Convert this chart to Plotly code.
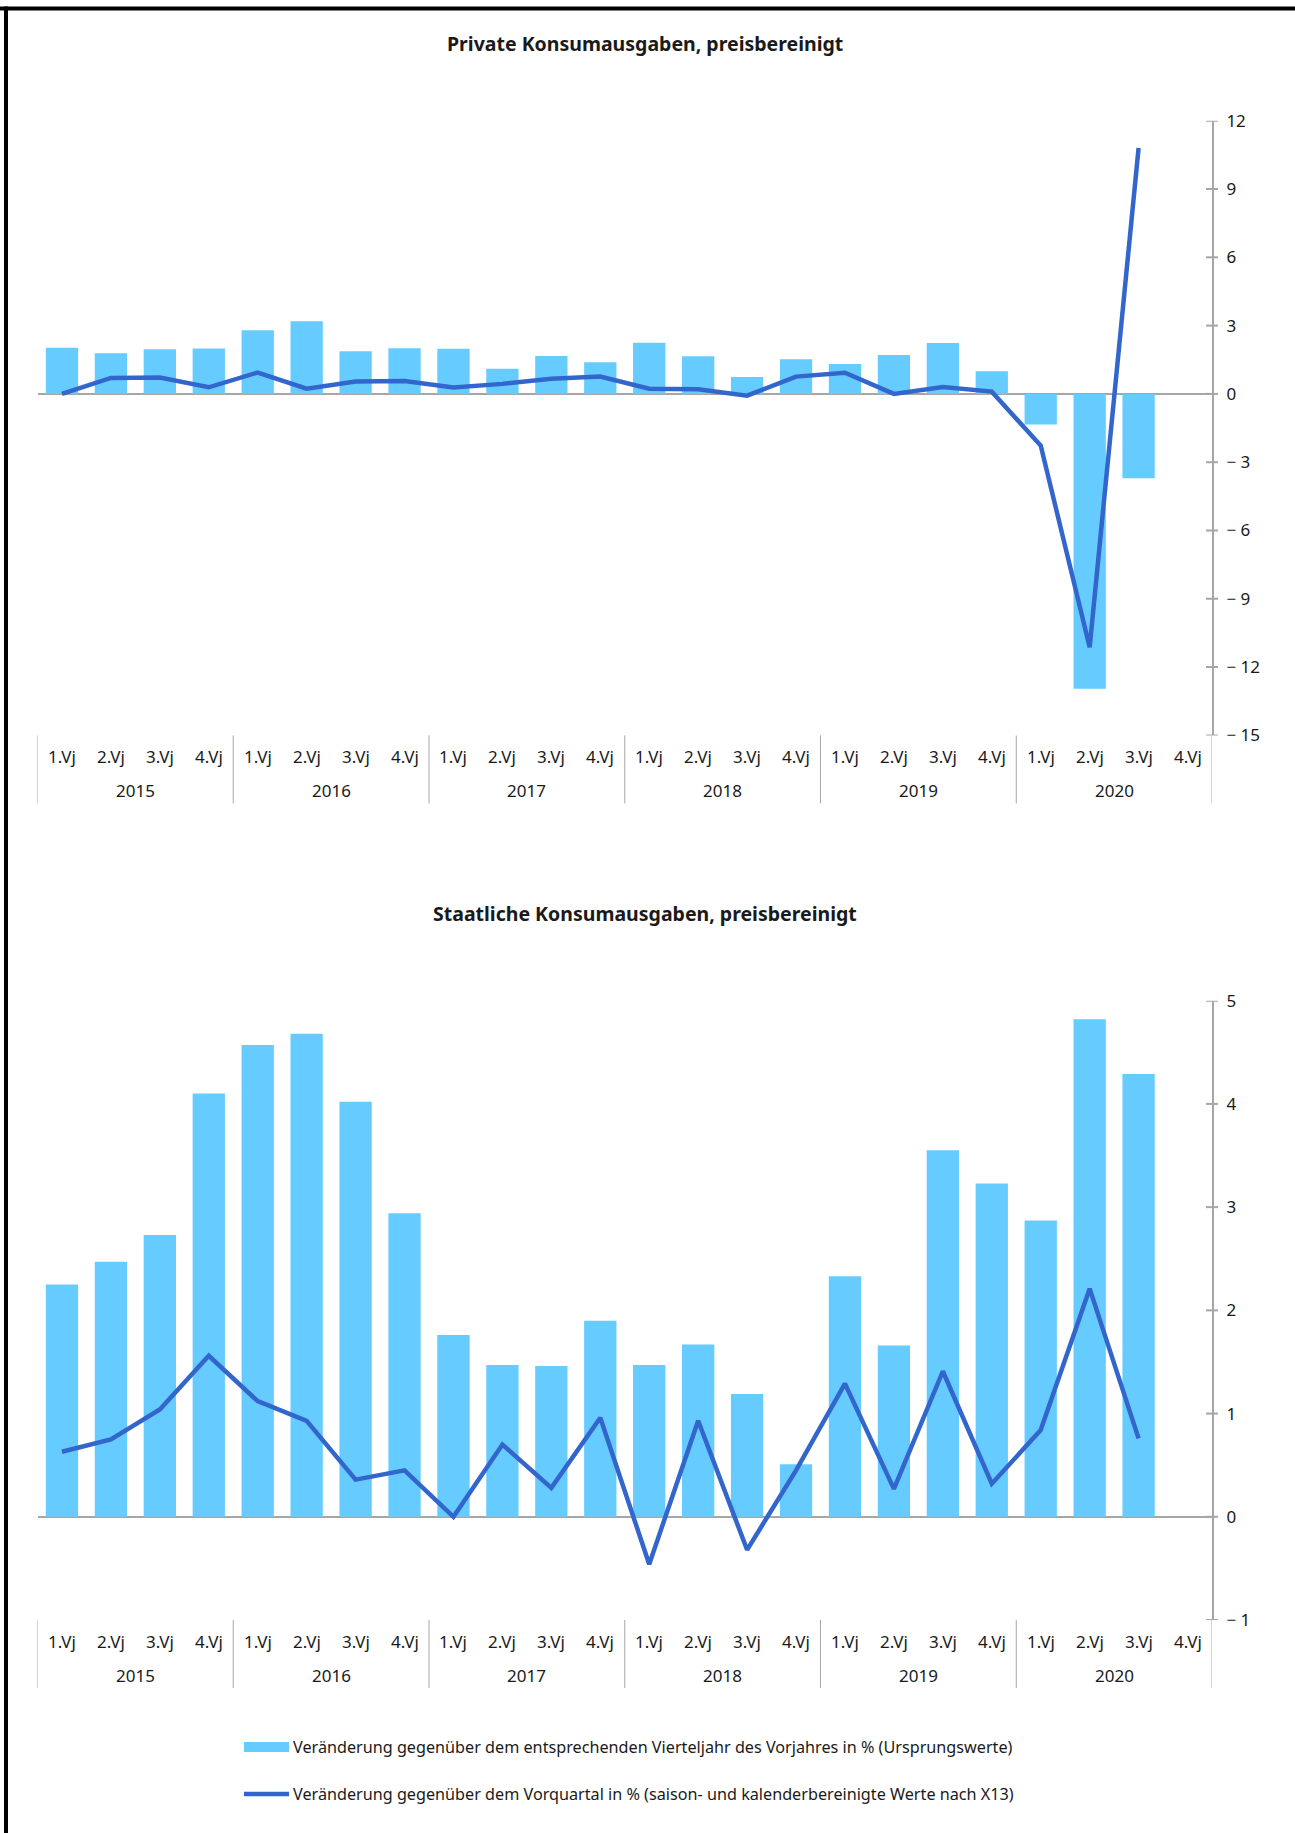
import plotly.graph_objects as go

# ---------------- data ----------------
years = ["2015", "2016", "2017", "2018", "2019", "2020"]
quarters = ["1.Vj", "2.Vj", "3.Vj", "4.Vj"]
categories = [f"{q} {y}" for y in years for q in quarters]

private_yoy = [2.03, 1.79, 1.96, 1.99, 2.80, 3.19, 1.87, 2.00,
               1.98, 1.10, 1.66, 1.39, 2.25, 1.65, 0.74, 1.52,
               1.31, 1.71, 2.24, 1.00, -1.34, -12.95, -3.71, None]
private_qoq = [0.0, 0.70, 0.72, 0.29, 0.94, 0.23, 0.54, 0.57,
               0.28, 0.44, 0.67, 0.76, 0.23, 0.20, -0.08, 0.76,
               0.93, 0.0, 0.30, 0.10, -2.27, -11.13, 10.8, None]

state_yoy = [2.25, 2.47, 2.73, 4.10, 4.57, 4.68, 4.02, 2.94,
             1.76, 1.47, 1.46, 1.90, 1.47, 1.67, 1.19, 0.51,
             2.33, 1.66, 3.55, 3.23, 2.87, 4.82, 4.29, None]
state_qoq = [0.63, 0.75, 1.04, 1.56, 1.12, 0.93, 0.36, 0.45,
             0.0, 0.70, 0.28, 0.96, -0.46, 0.93, -0.32, 0.45,
             1.29, 0.27, 1.41, 0.32, 0.84, 2.21, 0.76, None]

top_ticks = [12, 9, 6, 3, 0, -3, -6, -9, -12, -15]
bottom_ticks = [5, 4, 3, 2, 1, 0, -1]

title_top = "Private Konsumausgaben, preisbereinigt"
title_bottom = "Staatliche Konsumausgaben, preisbereinigt"
legend_bar = "Veränderung gegenüber dem entsprechenden Vierteljahr des Vorjahres in % (Ursprungswerte)"
legend_line = "Veränderung gegenüber dem Vorquartal in % (saison- und kalenderbereinigte Werte nach X13)"

# ---------------- style ----------------
W, H = 1295, 1833
FONT = "Noto Sans"
BAR_COLOR = "#66CCFF"
LINE_COLOR = "#3366CC"
AXIS_GRAY = "#A6A6A6"
TEXT = "#1a1a1a"

def py(px):
    return 1 - px / H

def pxx(px):
    return px / W

X_LEFT, X_RIGHT = 37.5, 1212
TOP_T, TOP_B = 120.7, 735.4
BOT_T, BOT_B = 1000.7, 1620

def fmt(v):
    return f"\u2212 {abs(v)}" if v < 0 else f"{v}"

fig = go.Figure()

fig.add_trace(go.Bar(x=categories, y=private_yoy, marker_color=BAR_COLOR,
                     marker_line_width=0, xaxis="x", yaxis="y", showlegend=False,
                     hoverinfo="skip"))
fig.add_trace(go.Scatter(x=categories, y=private_qoq, mode="lines",
                         line=dict(color=LINE_COLOR, width=4.5), xaxis="x", yaxis="y",
                         showlegend=False, hoverinfo="skip"))
fig.add_trace(go.Bar(x=categories, y=state_yoy, marker_color=BAR_COLOR,
                     marker_line_width=0, xaxis="x2", yaxis="y2", showlegend=False,
                     hoverinfo="skip"))
fig.add_trace(go.Scatter(x=categories, y=state_qoq, mode="lines",
                         line=dict(color=LINE_COLOR, width=4.5), xaxis="x2", yaxis="y2",
                         showlegend=False, hoverinfo="skip"))

xcommon = dict(domain=[pxx(X_LEFT), pxx(X_RIGHT)], type="category",
               categoryorder="array", categoryarray=categories,
               range=[-0.5, len(categories) - 0.5], automargin=False,
               showline=False, showgrid=False, zeroline=False,
               showticklabels=False, ticks="", fixedrange=True)

ycommon = dict(side="right", showline=True, linecolor=AXIS_GRAY, linewidth=2,
               showgrid=False, zeroline=True, zerolinecolor=AXIS_GRAY,
               zerolinewidth=2, ticks="", ticklabelstandoff=9, automargin=False,
               tickfont=dict(family=FONT, size=17, color=TEXT), fixedrange=True)

fig.update_layout(
    template="none",
    width=W, height=H, margin=dict(l=0, r=0, t=0, b=0, pad=0, autoexpand=False),
    paper_bgcolor="white", plot_bgcolor="white",
    bargap=0.34, hovermode=False,
    font=dict(family=FONT, color=TEXT),
    xaxis=dict(**xcommon, anchor="y"),
    yaxis=dict(**ycommon, anchor="x", domain=[py(TOP_B), py(TOP_T)],
               range=[min(top_ticks), max(top_ticks)],
               tickvals=top_ticks, ticktext=[fmt(v) for v in top_ticks]),
    xaxis2=dict(**xcommon, anchor="y2"),
    yaxis2=dict(**ycommon, anchor="x2", domain=[py(BOT_B), py(BOT_T)],
                range=[min(bottom_ticks), max(bottom_ticks)],
                tickvals=bottom_ticks, ticktext=[fmt(v) for v in bottom_ticks]),
)

shapes = []
annotations = []

# crossing tick marks
for yref, ticks in (("y", top_ticks), ("y2", bottom_ticks)):
    for t in ticks:
        shapes.append(dict(type="line", xref="paper", yref=yref,
                           x0=pxx(X_RIGHT - 6), x1=pxx(X_RIGHT + 6), y0=t, y1=t,
                           line=dict(color=AXIS_GRAY, width=2)))

# category axes (quarters + years with separators)
for xref, bottom in (("x", TOP_B), ("x2", BOT_B)):
    for k in range(len(years) + 1):
        shapes.append(dict(type="line", xref=xref, yref="paper",
                           x0=4 * k - 0.5, x1=4 * k - 0.5,
                           y0=py(bottom), y1=py(bottom + 68),
                           line=dict(color=AXIS_GRAY, width=1)))
    for i, c in enumerate(categories):
        annotations.append(dict(xref=xref, yref="paper", x=i, y=py(bottom + 21.5),
                                text=quarters[i % 4], showarrow=False,
                                xanchor="center", yanchor="middle",
                                font=dict(family=FONT, size=17, color=TEXT)))
    for k, yr in enumerate(years):
        annotations.append(dict(xref=xref, yref="paper", x=4 * k + 1.5,
                                y=py(bottom + 55.5), text=yr, showarrow=False,
                                xanchor="center", yanchor="middle",
                                font=dict(family=FONT, size=17, color=TEXT)))

# titles
for txt, ypx in ((title_top, 43), (title_bottom, 914)):
    annotations.append(dict(xref="paper", yref="paper", x=pxx(645), y=py(ypx),
                            text=f"<b>{txt}</b>", showarrow=False,
                            xanchor="center", yanchor="middle",
                            font=dict(family=FONT, size=19.5, color=TEXT)))

# legend (drawn manually)
shapes.append(dict(type="rect", xref="paper", yref="paper",
                   x0=pxx(244), x1=pxx(289), y0=py(1752), y1=py(1742),
                   fillcolor=BAR_COLOR, line=dict(width=0)))
shapes.append(dict(type="line", xref="paper", yref="paper",
                   x0=pxx(244), x1=pxx(289), y0=py(1794), y1=py(1794),
                   line=dict(color=LINE_COLOR, width=4.5)))
for txt, ypx in ((legend_bar, 1747), (legend_line, 1794)):
    annotations.append(dict(xref="paper", yref="paper", x=pxx(291), y=py(ypx),
                            text=txt, showarrow=False, xanchor="left",
                            yanchor="middle",
                            font=dict(family=FONT, size=16.2, color=TEXT)))

# frame (top and left border)
shapes.append(dict(type="line", xref="paper", yref="paper",
                   x0=0, x1=1, y0=py(8.5), y1=py(8.5),
                   line=dict(color="black", width=4)))
shapes.append(dict(type="line", xref="paper", yref="paper",
                   x0=pxx(6), x1=pxx(6), y0=py(6.5), y1=0,
                   line=dict(color="black", width=4)))

fig.update_layout(shapes=shapes, annotations=annotations)

fig.write_html(
    "out.html",
    config={"displayModeBar": False},
    post_script="document.body.style.margin='0px';document.body.style.overflow='hidden';",
)
